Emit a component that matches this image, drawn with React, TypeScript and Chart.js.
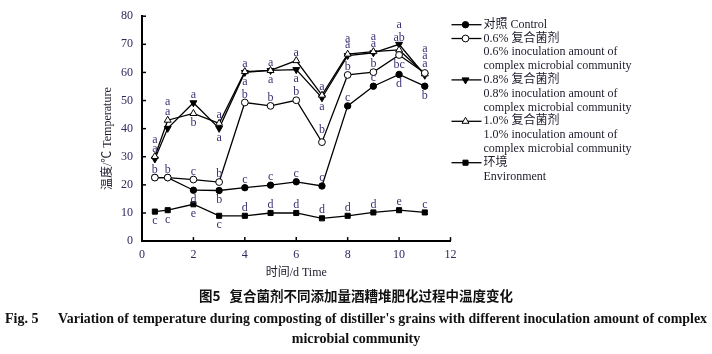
import React, { useEffect, useRef } from 'react';
import { Chart, registerables } from 'chart.js';

Chart.register(...registerables);

// ---- data ----
const days = [0.5, 1, 2, 3, 4, 5, 6, 7, 8, 9, 10, 11];
const control = [22.6, 22.6, 18.1, 18.0, 19.0, 19.9, 21.1, 19.6, 48.1, 55.1, 59.3, 55.1];
const inoc06 = [22.6, 22.6, 21.9, 21.0, 49.3, 48.1, 50.1, 35.2, 59.1, 60.1, 66.2, 59.8];
const inoc08 = [29.2, 40.1, 49.2, 40.1, 60.0, 60.7, 61.0, 51.0, 66.0, 67.0, 70.0, 59.0];
const inoc10 = [30.1, 43.0, 45.4, 41.9, 60.3, 60.7, 64.2, 51.9, 66.5, 67.4, 68.0, 59.5];
const environment = [10.5, 11.0, 13.1, 9.0, 9.0, 10.0, 10.0, 8.1, 9.0, 10.2, 11.0, 10.2];

// significance letters and their stacking level (+ above the point, - below)
const controlLetters = ['', '', 'd', 'b', 'c', 'c', 'c', 'c', 'c', 'c', 'd', 'b'];
const controlLevels = [0, 0, -1, -1, 1, 1, 1, 1, 1, 1, -1, -1];
const inoc06Letters = ['b', 'b', 'c', 'b', 'b', 'b', 'b', 'b', 'b', 'b', 'bc', 'a'];
const inoc06Levels = [1, 1, 1, 1, 1, 1, 1, 1.4, 1, 1, -1, 1.8];
const inoc08Letters = ['a', 'a', 'a', 'a', 'a', 'a', 'a', 'a', 'a', 'a', 'a', 'a'];
const inoc08Levels = [2, 2.7, 1, -1, -1, -1, -1, -1, 1.8, 1.7, 2, 2.65];
const inoc10Letters = ['a', 'a', 'b', 'a', 'a', 'a', 'a', 'a', 'a', 'a', 'ab', 'a'];
const inoc10Levels = [1, 1, -1, 1, 1, 1, 1, 1, 1.1, 1, 1.4, 1.2];
const envLetters = ['c', 'c', 'e', 'c', 'd', 'd', 'd', 'd', 'd', 'd', 'e', 'c'];
const envLevels = [-1, -1, -1, -1, 1, 1, 1, 1, 1, 1, 1, 1];

const yTicks = [0, 10, 20, 30, 40, 50, 60, 70, 80];
const xTicks = [0, 2, 4, 6, 8, 10, 12];

const legendRows = [
  '对照 Control',
  '0.6% 复合菌剂',
  '0.6% inoculation amount of',
  'complex microbial community',
  '0.8% 复合菌剂',
  '0.8% inoculation amount of',
  'complex microbial community',
  '1.0% 复合菌剂',
  '1.0% inoculation amount of',
  'complex microbial community',
  '环境',
  'Environment',
];

const yTitle = '温度/℃ Temperature';
const xTitle = '时间/d Time';
const captionCn = '图5   复合菌剂不同添加量酒糟堆肥化过程中温度变化';
const captionEnHead = 'Fig. 5';
const captionEn1 = "Variation of temperature during composting of distiller's grains with different inoculation amount of complex";
const captionEn2 = 'microbial community';

const SERIF = '"Liberation Serif", "Noto Sans CJK SC", serif';
const LETTER_COLOR = '#3a3474';
const TICK_COLOR = '#2c2a5e';
const TEXT_COLOR = '#1c1c2c';

type SeriesDef = {
  label: string;
  values: number[];
  letters: string[];
  levels: number[];
  pointStyle: string;
  rotation: number;
  fill: string;
  radius: number;
  order: number;
  legendRow: number;
};

const series: SeriesDef[] = [
  { label: '对照 Control', values: control, letters: controlLetters, levels: controlLevels, pointStyle: 'circle', rotation: 0, fill: '#000', radius: 3.2, order: 3, legendRow: 0 },
  { label: '0.6%', values: inoc06, letters: inoc06Letters, levels: inoc06Levels, pointStyle: 'circle', rotation: 0, fill: '#fff', radius: 3.4, order: 0, legendRow: 1 },
  { label: '0.8%', values: inoc08, letters: inoc08Letters, levels: inoc08Levels, pointStyle: 'triangle', rotation: 180, fill: '#000', radius: 4, order: 2, legendRow: 4 },
  { label: '1.0%', values: inoc10, letters: inoc10Letters, levels: inoc10Levels, pointStyle: 'triangle', rotation: 0, fill: '#fff', radius: 4, order: 1, legendRow: 7 },
  { label: '环境 Environment', values: environment, letters: envLetters, levels: envLevels, pointStyle: 'rect', rotation: 0, fill: '#000', radius: 3.6, order: 4, legendRow: 10 },
];

function levelOffset(level: number): number {
  if (level > 0) return -(8 + (level - 1) * 11);
  return 9.5 + (-level - 1) * 11;
}

function drawMarker(ctx: CanvasRenderingContext2D, s: SeriesDef, x: number, y: number) {
  const r = s.radius;
  ctx.beginPath();
  if (s.pointStyle === 'circle') {
    ctx.arc(x, y, r, 0, Math.PI * 2);
  } else if (s.pointStyle === 'rect') {
    const h = r * Math.SQRT1_2;
    ctx.rect(x - h, y - h, 2 * h, 2 * h);
  } else {
    const dir = s.rotation === 180 ? 1 : -1;
    const w = r * 0.866;
    ctx.moveTo(x, y + dir * r);
    ctx.lineTo(x - w, y - dir * r * 0.5);
    ctx.lineTo(x + w, y - dir * r * 0.5);
    ctx.closePath();
  }
  ctx.fillStyle = s.fill;
  ctx.fill();
  ctx.lineWidth = 1;
  ctx.strokeStyle = '#000';
  ctx.stroke();
}

const decorPlugin = {
  id: 'decor',
  afterDraw(chart: any) {
    const ctx: CanvasRenderingContext2D = chart.ctx;
    const { left, right, top, bottom } = chart.chartArea;
    const xs = chart.scales.x;
    const ys = chart.scales.y;
    ctx.save();

    // inward tick marks
    ctx.strokeStyle = '#000';
    ctx.lineWidth = 1.5;
    yTicks.forEach((v) => {
      const py = ys.getPixelForValue(v);
      ctx.beginPath();
      ctx.moveTo(left, py);
      ctx.lineTo(left + 4, py);
      ctx.stroke();
    });
    xTicks.forEach((v) => {
      const px = xs.getPixelForValue(v);
      ctx.beginPath();
      ctx.moveTo(px, bottom);
      ctx.lineTo(px, bottom - 4);
      ctx.stroke();
    });

    // significance letters
    ctx.font = '12px ' + SERIF;
    ctx.fillStyle = LETTER_COLOR;
    ctx.textAlign = 'center';
    ctx.textBaseline = 'middle';
    series.forEach((s) => {
      s.letters.forEach((t, i) => {
        if (!t) return;
        const px = xs.getPixelForValue(days[i]);
        const py = ys.getPixelForValue(s.values[i]);
        ctx.fillText(t, px, py + levelOffset(s.levels[i]));
      });
    });

    // axis titles
    ctx.fillStyle = TEXT_COLOR;
    ctx.font = '12px ' + SERIF;
    ctx.save();
    ctx.translate(left - 34, (top + bottom) / 2 + 10);
    ctx.rotate(-Math.PI / 2);
    ctx.textAlign = 'center';
    ctx.textBaseline = 'middle';
    ctx.fillText(yTitle, 0, 0);
    ctx.restore();
    ctx.textAlign = 'center';
    ctx.textBaseline = 'middle';
    ctx.fillText(xTitle, (left + right) / 2, bottom + 32);

    // legend
    const lx0 = right + 1;
    const lx1 = right + 31;
    const mx = right + 15;
    const tx = right + 33;
    const rowY = (r: number) => top + 8.5 + r * 13.8;
    ctx.font = '12px ' + SERIF;
    ctx.textAlign = 'left';
    ctx.textBaseline = 'middle';
    legendRows.forEach((t, r) => {
      ctx.fillStyle = TEXT_COLOR;
      ctx.fillText(t, tx, rowY(r));
    });
    series.forEach((s) => {
      const y = rowY(s.legendRow);
      ctx.beginPath();
      ctx.moveTo(lx0, y);
      ctx.lineTo(lx1, y);
      ctx.strokeStyle = '#000';
      ctx.lineWidth = 1.3;
      ctx.stroke();
      drawMarker(ctx, s, mx, y);
    });

    // caption
    const W = chart.width;
    ctx.fillStyle = '#111';
    ctx.textBaseline = 'middle';
    ctx.textAlign = 'center';
    ctx.font = 'bold 13.5px "Noto Sans CJK SC", sans-serif';
    ctx.fillText(captionCn, W / 2, 296);
    ctx.font = 'bold 14px ' + SERIF;
    ctx.textAlign = 'left';
    ctx.fillText(captionEnHead, 5, 319);
    ctx.fillText(captionEn1, 58, 319, W - 58 - 5);
    ctx.textAlign = 'center';
    ctx.fillText(captionEn2, W / 2, 339);

    ctx.restore();
  },
};

export default function App() {
  const ref = useRef<HTMLCanvasElement | null>(null);

  useEffect(() => {
    document.body.style.margin = '0';
    const canvas = ref.current;
    if (!canvas) return;
    const chart = new Chart(canvas, {
      type: 'line',
      data: {
        datasets: series.map((s) => ({
          label: s.label,
          data: days.map((d, i) => ({ x: d, y: s.values[i] })),
          borderColor: '#000',
          borderWidth: 1.3,
          pointStyle: s.pointStyle as any,
          pointRotation: s.rotation,
          pointRadius: s.radius,
          pointBackgroundColor: s.fill,
          pointBorderColor: '#000',
          pointBorderWidth: 1,
          tension: 0,
          fill: false,
          order: s.order,
        })),
      },
      options: {
        responsive: false,
        animation: false,
        events: [],
        layout: { padding: { left: 112, right: 261.5, top: 13, bottom: 84.5 } },
        plugins: {
          legend: { display: false },
          tooltip: { enabled: false },
          title: { display: false },
        },
        scales: {
          x: {
            type: 'linear',
            min: 0,
            max: 12,
            grid: { display: false, drawTicks: false },
            border: { display: true, color: '#000', width: 2 },
            ticks: {
              stepSize: 2,
              padding: 7,
              color: TICK_COLOR,
              font: { family: SERIF, size: 12 },
            },
          },
          y: {
            type: 'linear',
            min: 0,
            max: 80,
            grid: { display: false, drawTicks: false },
            border: { display: true, color: '#000', width: 2 },
            ticks: {
              stepSize: 10,
              padding: 9,
              color: TICK_COLOR,
              font: { family: SERIF, size: 12 },
            },
          },
        },
      },
      plugins: [decorPlugin],
    });
    return () => chart.destroy();
  }, []);

  return (
    <div style={{ width: 712, height: 354 }}>
      <canvas ref={ref} width={712} height={354} />
    </div>
  );
}
